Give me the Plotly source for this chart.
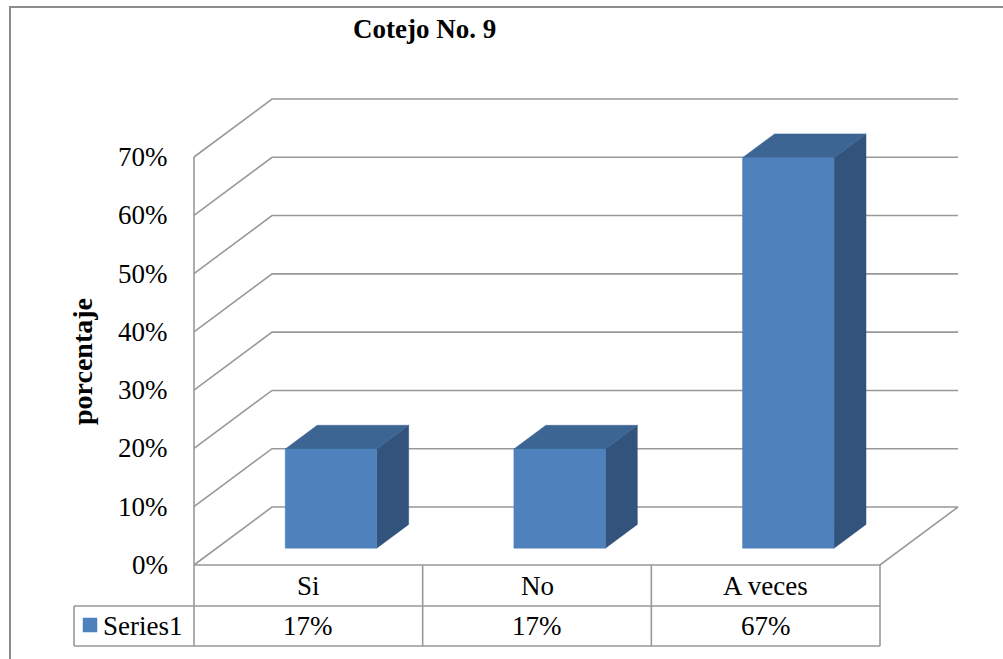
import plotly.graph_objects as go

# Chart data
categories = ["Si", "No", "A veces"]
values = [0.17, 0.17, 0.67]
series_name = "Series1"
tick_values = [0.0, 0.1, 0.2, 0.3, 0.4, 0.5, 0.6, 0.7]
tick_labels = ["0%", "10%", "20%", "30%", "40%", "50%", "60%", "70%"]
title_text = "Cotejo No. 9"
y_title = "porcentaje"

# Canvas and axis mapping (pixels of the page <-> axis units)
W, H = 1003, 659
X0_PX, X_SCALE = 194.0, 228.67      # x=0 at 194px, one category = 228.67px
Y0_PX, Y_SCALE = 565.0, 582.86      # y=0 at 565px, 100% = 582.86px


def px_x(px):
    return (px - X0_PX) / X_SCALE


def px_y(py):
    return (Y0_PX - py) / Y_SCALE


# Oblique depth of the 3-D box (in axis units)
DX = 78.0 / X_SCALE
DY = 58.0 / Y_SCALE
BAR_W = 0.4          # fraction of a category
BAR_F0, BAR_F1 = 0.29, 0.70   # bar front/back as fraction of floor depth

FRONT = "#4F81BD"
TOP = "#3C6593"
SIDE = "#32537B"
GRID = "#999999"
SERIF = "Liberation Serif"
FS = 27

fig = go.Figure()


def add_line(xs, ys, color=GRID, width=1.6):
    fig.add_trace(go.Scatter(x=xs, y=ys, mode="lines",
                             line=dict(color=color, width=width),
                             hoverinfo="skip", showlegend=False))


def add_poly(xs, ys, color):
    fig.add_trace(go.Scatter(x=xs + [xs[0]], y=ys + [ys[0]], mode="lines",
                             fill="toself", fillcolor=color,
                             line=dict(color=color, width=0.5),
                             hoverinfo="skip", showlegend=False))


n = len(categories)

# Walls: diagonal side-wall lines and back-wall gridlines
for t in tick_values:
    add_line([0, DX, n + DX], [t, t + DY, t + DY])
# Left front edge, floor front edge and floor right edge
add_line([0, 0], [0, tick_values[-1]])
add_line([0, n, n + DX], [0, 0, DY])

# Bars drawn as three visible faces
for i, v in enumerate(values):
    c = i + 0.5
    xa = c - BAR_W / 2 + BAR_F0 * DX
    xb = c + BAR_W / 2 + BAR_F0 * DX
    ya = BAR_F0 * DY
    ddx = (BAR_F1 - BAR_F0) * DX
    ddy = (BAR_F1 - BAR_F0) * DY
    # right side
    add_poly([xb, xb + ddx, xb + ddx, xb], [ya, ya + ddy, ya + v + ddy, ya + v], SIDE)
    # top
    add_poly([xa, xb, xb + ddx, xa + ddx], [ya + v, ya + v, ya + v + ddy, ya + v + ddy], TOP)
    # front
    add_poly([xa, xb, xb, xa], [ya, ya, ya + v, ya + v], FRONT)

# Data table under the plot
row1 = px_y(606)
row2 = px_y(646)
leg_left = px_x(74)
TBL = "#999999"
add_line([0, n], [row1, row1], TBL, 1.6)
add_line([leg_left, n], [row2, row2], TBL, 1.6)
add_line([leg_left, 0], [row1, row1], TBL, 1.6)
add_line([leg_left, leg_left], [row1, row2], TBL, 1.6)
for k in range(n + 1):
    add_line([k, k], [0, row2], TBL, 1.6)

annotations = []
for i, (cat, v) in enumerate(zip(categories, values)):
    annotations.append(dict(x=i + 0.5, y=(0 + row1) / 2, text=cat, showarrow=False,
                            font=dict(family=SERIF, size=FS, color="black"),
                            xanchor="center", yanchor="middle"))
    annotations.append(dict(x=i + 0.5, y=(row1 + row2) / 2, text=f"{round(v * 100)}%",
                            showarrow=False,
                            font=dict(family=SERIF, size=FS, color="black"),
                            xanchor="center", yanchor="middle"))

# Legend key in the table
key_x0, key_x1 = px_x(83), px_x(97)
key_y0, key_y1 = px_y(632), px_y(618)
add_poly([key_x0, key_x1, key_x1, key_x0], [key_y0, key_y0, key_y1, key_y1], FRONT)
annotations.append(dict(x=px_x(101), y=(row1 + row2) / 2, text=series_name, showarrow=False,
                        font=dict(family=SERIF, size=FS, color="black"),
                        xanchor="left", yanchor="middle"))

# Value-axis tick labels
for t, lab in zip(tick_values, tick_labels):
    annotations.append(dict(x=px_x(170), y=t, text=lab, showarrow=False,
                            font=dict(family=SERIF, size=FS, color="black"),
                            xanchor="right", yanchor="middle"))

# Axis title and chart title
annotations.append(dict(x=px_x(82), y=px_y(362), text=f"<b>{y_title}</b>", showarrow=False,
                        textangle=-90,
                        font=dict(family=SERIF, size=28, color="black"),
                        xanchor="center", yanchor="middle"))
annotations.append(dict(x=px_x(424), y=px_y(29), text=f"<b>{title_text}</b>", showarrow=False,
                        font=dict(family=SERIF, size=27, color="black"),
                        xanchor="center", yanchor="middle"))

fig.update_layout(
    width=W, height=H,
    margin=dict(l=0, r=0, t=0, b=0),
    paper_bgcolor="white", plot_bgcolor="white",
    showlegend=False,
    xaxis=dict(range=[px_x(0), px_x(W)], visible=False, fixedrange=True),
    yaxis=dict(range=[px_y(H), px_y(0)], visible=False, fixedrange=True),
    annotations=annotations,
    shapes=[dict(type="rect", xref="paper", yref="paper",
                 x0=10 / W, x1=1.02, y0=-0.02, y1=1 - 7 / H,
                 line=dict(color="#8C8C8C", width=2), fillcolor="rgba(0,0,0,0)")],
)

fig.write_html("out.html")
